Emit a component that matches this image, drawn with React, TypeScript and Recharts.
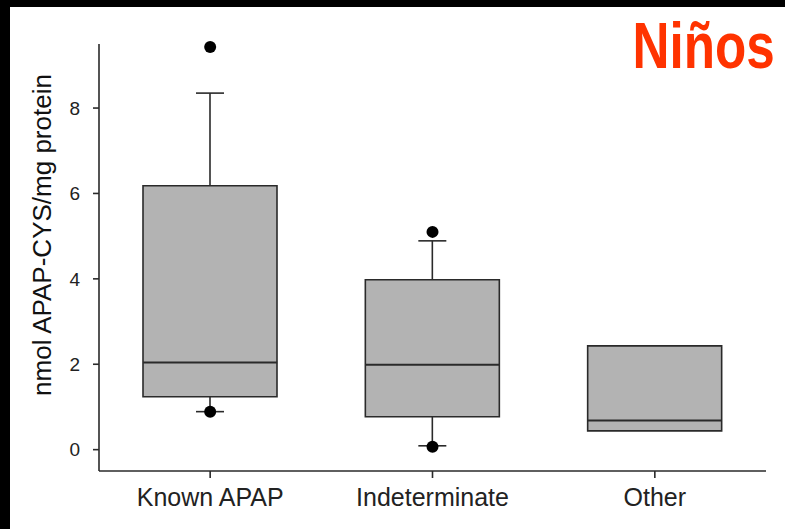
import {
  ComposedChart,
  Bar,
  Scatter,
  XAxis,
  YAxis,
  Label,
} from "recharts";

const categories = ["Known APAP", "Indeterminate", "Other"];
const q1 = [1.24, 0.77, 0.44];
const median = [2.04, 1.99, 0.68];
const q3 = [6.18, 3.98, 2.43];
const whiskerLow = [0.89, 0.09, null];
const whiskerHigh = [8.35, 4.89, null];
const outlierHigh = [9.43, 5.1, null];
const outlierLow = [0.89, 0.07, null];
const yTicks = [0, 2, 4, 6, 8];

const data = categories.map((name, i) => ({
  name,
  box: [q1[i], q3[i]],
  whisker: whiskerLow[i] == null ? null : [whiskerLow[i], whiskerHigh[i]],
  median: median[i],
  outHi: outlierHigh[i],
  outLo: outlierLow[i],
}));

const font = "'Liberation Sans', Arial, sans-serif";
const ink = "#2a2a2a";

const Whisker = (props: any) => {
  const { x, y, width, height, payload } = props;
  if (!payload || payload.whisker == null || !height) return <g />;
  const cx = x + width / 2;
  return (
    <g stroke={ink} strokeWidth={1.6}>
      <line x1={cx} x2={cx} y1={y} y2={y + height} />
      <line x1={x} x2={x + width} y1={y} y2={y} />
      <line x1={x} x2={x + width} y1={y + height} y2={y + height} />
    </g>
  );
};

const MedianLine = (props: any) => {
  const { cx, cy } = props;
  if (cy == null || isNaN(cy)) return <g />;
  return <line x1={cx - 67} x2={cx + 67} y1={cy} y2={cy} stroke={ink} strokeWidth={2} />;
};

const Dot = (props: any) => {
  const { cx, cy } = props;
  if (cy == null || isNaN(cy)) return <g />;
  return <circle cx={cx} cy={cy} r={6} fill="#000" />;
};

export default function App() {
  return (
    <div
      style={{
        position: "relative",
        width: 785,
        height: 529,
        background: "#fff",
        overflow: "hidden",
      }}
    >
      <style>{`body{margin:0}`}</style>
      <div style={{ position: "absolute", left: 0, top: 0, width: 785, height: 7, background: "#000" }} />
      <div style={{ position: "absolute", left: 0, top: 0, width: 10, height: 529, background: "#000" }} />
      <div
        style={{
          position: "absolute",
          right: 10,
          top: 10,
          fontFamily: font,
          fontWeight: "bold",
          fontSize: 64,
          lineHeight: "72px",
          color: "#ff3300",
          transform: "scaleX(0.8)",
          transformOrigin: "right center",
        }}
      >
        Niños
      </div>
      <ComposedChart
        width={785}
        height={529}
        data={data}
        margin={{ top: 44, right: 19, bottom: 28, left: 0 }}
        style={{ position: "absolute", left: 0, top: 0 }}
      >
        <XAxis
          xAxisId="main"
          dataKey="name"
          type="category"
          height={30}
          tickSize={7}
          tickMargin={10}
          stroke={ink}
          strokeWidth={1.6}
          tick={{ fill: "#222", fontSize: 25, fontFamily: font }}
        />
        <XAxis xAxisId="w" dataKey="name" type="category" hide />
        <YAxis
          width={99}
          domain={[-0.5, 9.5]}
          ticks={yTicks}
          tickSize={6}
          tickMargin={13}
          stroke={ink}
          strokeWidth={1.6}
          tick={{ fill: "#222", fontSize: 19, fontFamily: font }}
        >
          <Label
            content={() => (
              <text
                x={42}
                y={235}
                transform="rotate(-90 42 235)"
                textAnchor="middle"
                dominantBaseline="central"
                fontFamily={font}
                fontSize={26}
                fill="#111"
              >
                nmol APAP-CYS/mg protein
              </text>
            )}
          />
        </YAxis>
        <Bar
          xAxisId="w"
          dataKey="whisker"
          barSize={28}
          shape={<Whisker />}
          isAnimationActive={false}
        />
        <Bar
          xAxisId="main"
          dataKey="box"
          barSize={134}
          fill="#b3b3b3"
          stroke={ink}
          strokeWidth={1.6}
          isAnimationActive={false}
        />
        <Scatter xAxisId="main" dataKey="median" shape={<MedianLine />} isAnimationActive={false} />
        <Scatter xAxisId="main" dataKey="outHi" shape={<Dot />} isAnimationActive={false} />
        <Scatter xAxisId="main" dataKey="outLo" shape={<Dot />} isAnimationActive={false} />
      </ComposedChart>
    </div>
  );
}
